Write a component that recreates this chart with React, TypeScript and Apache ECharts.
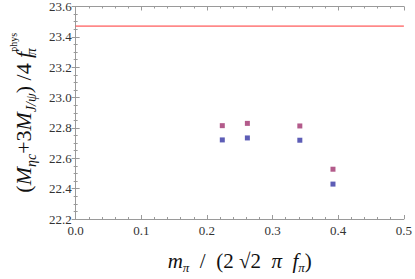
import React, { useEffect, useRef } from "react";
import * as echarts from "echarts";

const xValues = [0.2234, 0.2616, 0.3415, 0.392];
const upperValues = [22.815, 22.83, 22.813, 22.528];
const lowerValues = [22.721, 22.734, 22.719, 22.43];
const physValue = 23.471;
const xRange = [0, 0.5];
const yRange = [22.2, 23.6];

const serif = "Liberation Serif";
const frameColor = "#9a9a9a";

export default function App() {
  const ref = useRef<HTMLDivElement>(null);
  useEffect(() => {
    const chart = echarts.init(ref.current!, null, { renderer: "svg" });
    const tickLabel = {
      fontFamily: serif,
      fontSize: 13,
      color: "#333",
      formatter: (v: number) => v.toFixed(1),
    };
    const commonX = {
      type: "value",
      min: xRange[0],
      max: xRange[1],
      interval: 0.1,
      axisLine: { show: true, lineStyle: { color: frameColor, width: 1 } },
      axisTick: { show: true, inside: true, length: 4, lineStyle: { color: frameColor } },
      minorTick: { show: true, splitNumber: 5, length: 2, lineStyle: { color: frameColor } },
      splitLine: { show: false },
    };
    const commonY = {
      type: "value",
      min: yRange[0],
      max: yRange[1],
      interval: 0.2,
      axisLine: { show: true, lineStyle: { color: frameColor, width: 1 } },
      axisTick: { show: true, inside: true, length: 4, lineStyle: { color: frameColor } },
      minorTick: { show: true, splitNumber: 4, length: 2, lineStyle: { color: frameColor } },
      splitLine: { show: false },
    };
    chart.setOption({
      animation: false,
      backgroundColor: "#fff",
      grid: { left: 59, right: 8, top: 6, bottom: 58, containLabel: false },
      xAxis: [
        {
          ...commonX,
          position: "bottom",
          axisLabel: { ...tickLabel, margin: 5 },
          name: "{i|m}{sub|π}{n|  /  (2 }{n|√}{o|2}{n|  }{i|π}{n|  }{i|f}{sub|π}{n|)}",
          nameLocation: "middle",
          nameGap: 29,
          nameTextStyle: {
            rich: {
              n: { fontFamily: serif, fontSize: 21, color: "#111", lineHeight: 26 },
              o: { fontFamily: serif, fontSize: 21, color: "#111", lineHeight: 26 },
              i: { fontFamily: serif, fontSize: 21, fontStyle: "italic", color: "#111", lineHeight: 26 },
              sub: { fontFamily: serif, fontSize: 13, fontStyle: "italic", color: "#111", lineHeight: 15, verticalAlign: "bottom" },
            },
          },
        },
        { ...commonX, position: "top", axisLabel: { show: false } },
      ],
      yAxis: [
        {
          ...commonY,
          position: "left",
          axisLabel: { ...tickLabel, margin: 4 },
          name: "{n|(}{i|M}{sub|ηc}{n|+3}{i|M}{sub|J/ψ}{n|) /4 }{i|f}{subz|π}{sup|phys}",
          nameLocation: "middle",
          nameGap: 36,
          nameRotate: 90,
          nameTextStyle: {
            rich: {
              n: { fontFamily: serif, fontSize: 22, color: "#111", lineHeight: 30 },
              i: { fontFamily: serif, fontSize: 22, fontStyle: "italic", color: "#111", lineHeight: 30 },
              sub: { fontFamily: serif, fontSize: 14, fontStyle: "italic", color: "#111", lineHeight: 16, verticalAlign: "bottom" },
              subz: { fontFamily: serif, fontSize: 14, fontStyle: "italic", color: "#111", lineHeight: 16, verticalAlign: "bottom", width: 0 },
              sup: { fontFamily: serif, fontSize: 10, color: "#111", lineHeight: 14, verticalAlign: "top" },
            },
          },
        },
        { ...commonY, position: "right", axisLabel: { show: false } },
      ],
      series: [
        {
          type: "line",
          data: xRange.map((x) => [x, physValue]),
          symbol: "none",
          lineStyle: { color: "#ff3333", width: 1 },
          silent: true,
        },
        {
          type: "scatter",
          data: xValues.map((x, i) => [x, upperValues[i]]),
          symbol: "rect",
          symbolSize: 5,
          itemStyle: { color: "#a0326e" },
        },
        {
          type: "scatter",
          data: xValues.map((x, i) => [x, lowerValues[i]]),
          symbol: "rect",
          symbolSize: 5,
          itemStyle: { color: "#3434a4" },
        },
      ],
    });
    return () => chart.dispose();
  }, []);
  return <div ref={ref} style={{ position: "absolute", left: 0, top: 0, width: 415, height: 279 }} />;
}
